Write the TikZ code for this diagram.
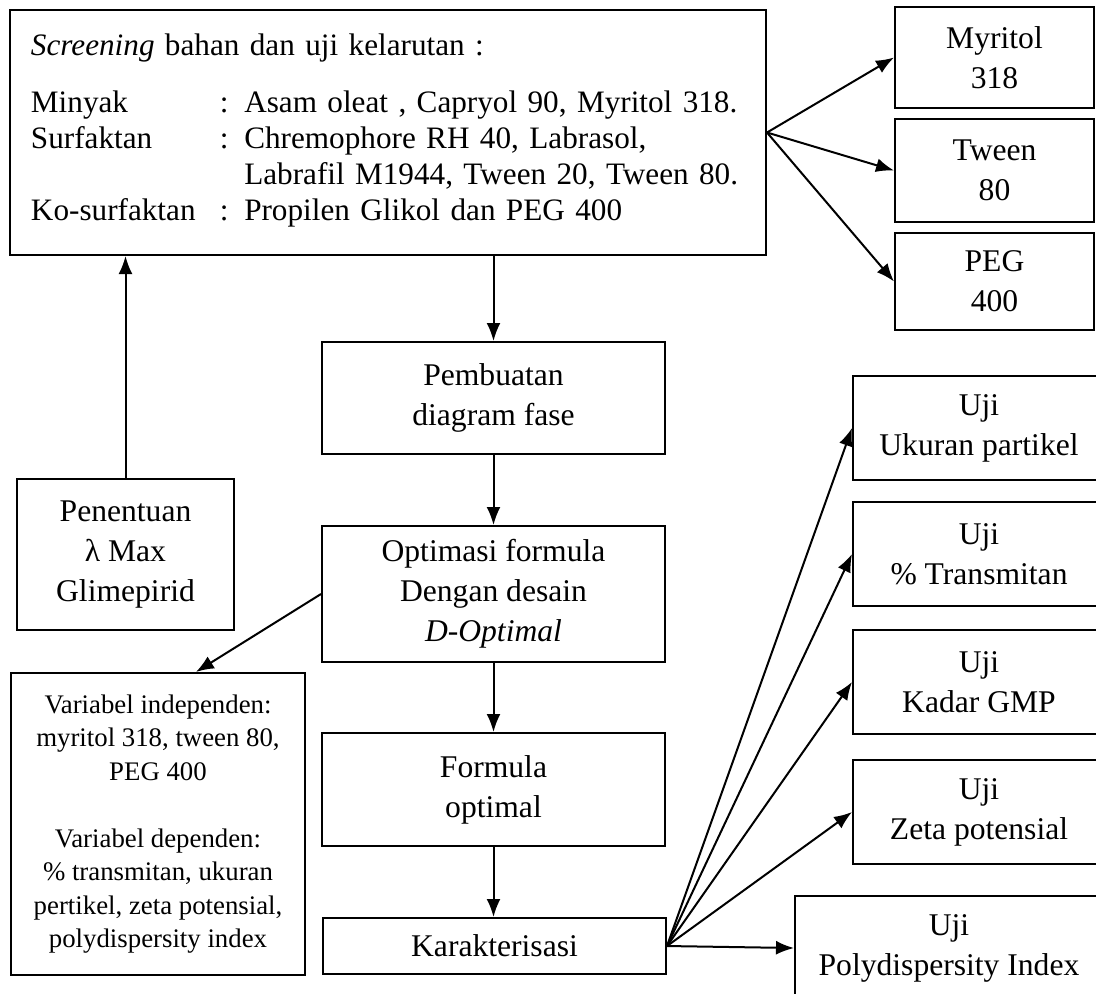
\documentclass[tikz,border=0pt]{standalone}
\usepackage{fontspec}
\setmainfont{Liberation Serif}
\usetikzlibrary{shapes,arrows.meta}
\tikzstyle{bx}=[rectangle,draw=black,line width=1pt,inner sep=0pt,align=center,font=\fontsize{15.8}{20}\selectfont]
\tikzstyle{ar}=[-{Latex[length=9pt,width=7pt]},line width=1pt]

\begin{document}
\begin{tikzpicture}[x=0.5pt,y=-0.5pt]
\useasboundingbox (0,0) rectangle (1096,993);
\clip (0,0) rectangle (1096,993);
\node[bx,text width=357pt,inner xsep=10.5pt,minimum height=122.5pt,align=left,font=\fontsize{15.6}{18}\selectfont] (scr) at (388,132.5) {\textit{Screening} bahan dan uji kelarutan :\\[11.5pt]
\begin{tabular}{@{}p{94.5pt}@{}l@{}}
Minyak & : Asam oleat , Capryol 90, Myritol 318.\\
Surfaktan & : Chremophore RH 40, Labrasol,\\
 & \phantom{: }Labrafil M1944, Tween 20, Tween 80.\\
Ko-surfaktan & : Propilen Glikol dan PEG 400
\end{tabular}};
\node[bx,minimum width=99.5pt,minimum height=50.5pt] (myr) at (994.5,57.5) {Myritol\\318};
\node[bx,minimum width=99.5pt,minimum height=51.5pt] (twn) at (994.5,170.5) {Tween\\80};
\node[bx,minimum width=99.5pt,minimum height=48.5pt] (peg) at (994.5,281.5) {PEG\\400};
\node[bx,minimum width=171.5pt,minimum height=56pt] (pem) at (493.5,398) {Pembuatan\\diagram fase};
\node[bx,minimum width=171.5pt,minimum height=68pt] (opt) at (493.5,594) {Optimasi formula\\Dengan desain\\\textit{D-Optimal}};
\node[bx,minimum width=108.5pt,minimum height=75.5pt] (pen) at (125.5,554.5) {Penentuan\\λ Max\\Glimepirid};
\node[bx,minimum width=147pt,minimum height=151pt,font=\fontsize{13.4}{16.75}\selectfont] (var) at (158,824) {Variabel independen:\\myritol 318, tween 80,\\PEG 400\\[16.75pt]Variabel dependen:\\\% transmitan, ukuran\\pertikel, zeta potensial,\\polydispersity index};
\node[bx,minimum width=171.5pt,minimum height=56.5pt] (frm) at (493.5,789.5) {Formula\\optimal};
\node[bx,minimum width=171.5pt,minimum height=28pt] (kar) at (494.5,946) {Karakterisasi};
\node[bx,minimum width=126pt,minimum height=52pt] (uji1) at (979,428) {Uji\\Ukuran partikel};
\node[bx,minimum width=126pt,minimum height=52pt] (uji2) at (979,554) {Uji\\\% Transmitan};
\node[bx,minimum width=126pt,minimum height=52pt] (uji3) at (979,682) {Uji\\Kadar GMP};
\node[bx,minimum width=126pt,minimum height=52pt] (uji4) at (979,812) {Uji\\Zeta potensial};
\node[bx,minimum width=154pt,minimum height=52pt] (uji5) at (949,948) {Uji\\Polydispersity Index};
\draw[ar] (scr.east) -- (myr.west);
\draw[ar] (scr.east) -- (twn.west);
\draw[ar] (scr.east) -- (peg.west);
\draw[ar] (pen.north) -- (pen.north |- scr.south);
\draw[ar] (pem.north |- scr.south) -- (pem.north);
\draw[ar] (pem.south) -- (opt.north);
\draw[ar] (opt.west) -- (var.76);
\draw[ar] (opt.south) -- (frm.north);
\draw[ar] (frm.south) -- (frm.south |- kar.north);
\draw[ar] (kar.east) -- (uji1.west);
\draw[ar] (kar.east) -- (uji2.west);
\draw[ar] (kar.east) -- (uji3.west);
\draw[ar] (kar.east) -- (uji4.west);
\draw[ar] (kar.east) -- (uji5.west);
\end{tikzpicture}
\end{document}
